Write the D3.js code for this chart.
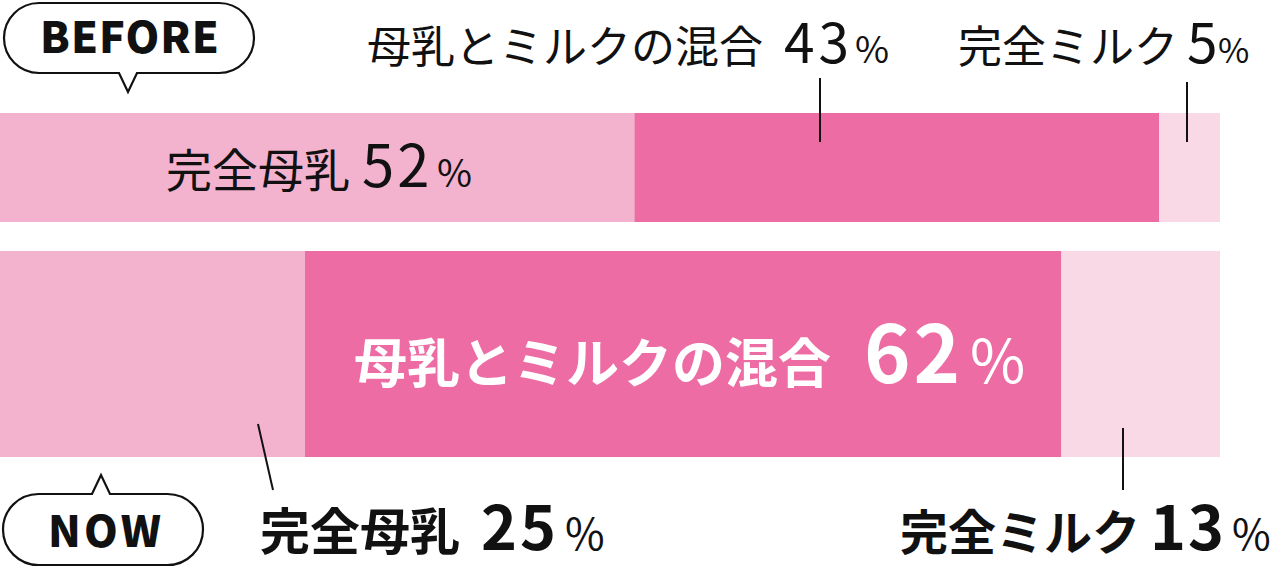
<!DOCTYPE html>
<html><head><meta charset="utf-8">
<script src="https://cdn.jsdelivr.net/npm/d3@7"></script>
<style>
html,body{margin:0;padding:0;background:#fff;}
svg{display:block;}
text{font-family:"Noto Sans CJK JP","Noto Sans",sans-serif;}
</style></head>
<body>
<svg id="c" width="1280" height="569"></svg>
<script>
// ---- data ----
const groups = ["BEFORE", "NOW"];
const categories = ["完全母乳", "母乳とミルクの混合", "完全ミルク"];
const beforeValues = [52, 43, 5];
const nowValues = [25, 62, 13];
const colors = ["#f3b2cd", "#ec6ca3", "#f9d9e5"];

// ---- layout ----
const svg = d3.select("#c");
const x = d3.scaleLinear().domain([0, 100]).range([0, 1220]);
const rows = [
  { values: beforeValues, y: 113, h: 109 },
  { values: nowValues, y: 251, h: 206 }
];

rows.forEach((row) => {
  let acc = 0;
  const segs = row.values.map((v, i) => { const s = { i, x0: acc, x1: acc + v }; acc += v; return s; });
  svg.append("g").selectAll("rect").data(segs).join("rect")
    .attr("x", d => x(d.x0))
    .attr("y", row.y)
    .attr("width", d => x(d.x1) - x(d.x0))
    .attr("height", row.h)
    .attr("fill", d => colors[d.i]);
});

// label helper
function label(g, o) {
  const t = g.append("text")
    .attr("y", o.y)
    .attr("fill", o.fill || "#111")
    .attr("font-weight", o.weight || 400);
  t.append("tspan").attr("x", o.x).attr("font-size", o.jp).text(o.cat);
  t.append("tspan").attr("x", o.nx).attr("font-size", o.num)
    .attr("letter-spacing", o.nls || 0).text(o.val);
  t.append("tspan").attr("x", o.px).attr("font-size", o.pct)
    .attr("font-weight", 400).text("%");
}

const g = svg.append("g");
// BEFORE labels
label(g, { x: 367, nx: 784, px: 855, y: 63, cat: categories[1], val: beforeValues[1], jp: 44, num: 55, pct: 37, nls: 4 });
label(g, { x: 958, nx: 1187, px: 1218, y: 63, cat: categories[2], val: beforeValues[2], jp: 44, num: 55, pct: 34 });
label(g, { x: 166, nx: 362, px: 437, y: 187, cat: categories[0], val: beforeValues[0], jp: 46, num: 58, pct: 38, nls: 3 });
// NOW labels
label(g, { x: 354, nx: 864, px: 970, y: 383, cat: categories[1], val: nowValues[1], jp: 53, num: 79, pct: 60, weight: 700, fill: "#fff", nls: 3 });
label(g, { x: 260, nx: 481, px: 565, y: 550, cat: categories[0], val: nowValues[0], jp: 50, num: 61, pct: 43, weight: 700, nls: 3 });
label(g, { x: 900, nx: 1150, px: 1232, y: 550, cat: categories[2], val: nowValues[2], jp: 48, num: 61, pct: 42, weight: 700, nls: 2 });

// leader lines
const leaders = [[820, 78, 820, 142], [1187, 82, 1187, 142], [258, 424, 273, 490], [1123, 428, 1123, 490]];
svg.append("g").selectAll("line").data(leaders).join("line")
  .attr("x1", d => d[0]).attr("y1", d => d[1]).attr("x2", d => d[2]).attr("y2", d => d[3])
  .attr("stroke", "#111").attr("stroke-width", 2);

// speech bubbles
function bubble(x0, y0, w, h, tailX, tailDir, text, tx, ty, ls) {
  const r = h / 2, tw = 9, tl = 19;
  const p = d3.path();
  p.moveTo(x0 + r, y0);
  if (tailDir === "up") { p.lineTo(tailX - tw, y0); p.lineTo(tailX, y0 - tl); p.lineTo(tailX + tw, y0); }
  p.lineTo(x0 + w - r, y0);
  p.arc(x0 + w - r, y0 + r, r, -Math.PI / 2, Math.PI / 2);
  if (tailDir === "down") { p.lineTo(tailX + tw, y0 + h); p.lineTo(tailX, y0 + h + tl); p.lineTo(tailX - tw, y0 + h); }
  p.lineTo(x0 + r, y0 + h);
  p.arc(x0 + r, y0 + r, r, Math.PI / 2, Math.PI * 1.5);
  p.closePath();
  svg.append("path").attr("d", p.toString()).attr("fill", "#fff").attr("stroke", "#111").attr("stroke-width", 2.2);
  svg.append("text").attr("x", tx).attr("y", ty).attr("text-anchor", "middle")
    .attr("font-family", "Lato, 'Noto Sans', sans-serif").attr("font-weight", 900)
    .attr("font-size", 43).attr("letter-spacing", ls).attr("fill", "#111").text(text);
}
bubble(4, 3, 250, 70, 128, "down", groups[0], 130, 53, 1);
bubble(3, 494, 200, 71, 101, "up", groups[1], 106, 547, 3);
</script>
</body></html>
